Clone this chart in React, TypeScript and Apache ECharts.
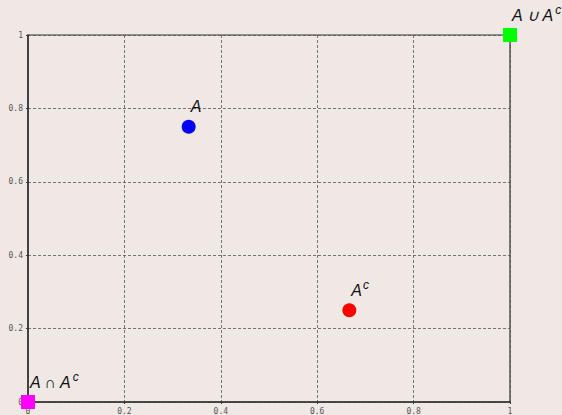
import React, { useEffect, useRef } from "react";
import * as echarts from "echarts";

const xTicks = [0, 0.2, 0.4, 0.6, 0.8, 1];
const yTicks = [0, 0.2, 0.4, 0.6, 0.8, 1];
const pointNames = ["A", "Ac", "AcapAc", "AcupAc"];
const pointX = [1 / 3, 2 / 3, 0, 1];
const pointY = [0.75, 0.25, 0, 1];
const pointLabels = ["{m|A}", "{m|A}{s|c}", "{m|A ∩ A}{s|c}", "{m|A ∪ A}{s|c}"];
const pointSymbols = ["circle", "circle", "rect", "rect"];
const pointColors = ["#0000ff", "#ff0000", "#ff00ff", "#00ff00"];

export default function App() {
  const ref = useRef<HTMLDivElement>(null);
  useEffect(() => {
    if (!ref.current) return;
    const chart = echarts.init(ref.current, null, { renderer: "svg" });
    const fmt = (v: number) => (xTicks.includes(v) || yTicks.includes(v) ? String(v) : "");
    const axisCommon = {
      type: "value" as const,
      min: 0,
      max: 1,
      interval: 0.2,
      axisLine: { show: true, lineStyle: { color: "#333", width: 1.5 } },
      axisTick: { show: true, length: 2, lineStyle: { color: "#333" } },
      splitLine: { show: true, lineStyle: { type: [3, 2], color: "#555", width: 0.8 } },
      axisLabel: {
        fontFamily: "DejaVu Sans Mono",
        fontSize: 8,
        color: "#555",
        formatter: fmt,
        margin: 5,
      },
    };
    chart.setOption({
      animation: false,
      backgroundColor: "#f0e8e5",
      grid: {
        left: 28,
        right: 52,
        top: 35,
        bottom: 13,
        show: true,
        borderColor: "#333",
        borderWidth: 1.2,
        backgroundColor: "transparent",
      },
      xAxis: { ...axisCommon },
      yAxis: { ...axisCommon },
      series: pointNames.map((name, i) => ({
        name,
        type: "scatter",
        symbol: pointSymbols[i],
        symbolSize: 14,
        itemStyle: { color: pointColors[i], opacity: 1 },
        data: [[pointX[i], pointY[i]]],
        label: {
          show: true,
          position: [9, -5],
          align: "left",
          verticalAlign: "bottom",
          formatter: pointLabels[i],
          rich: {
            m: {
              fontFamily: "Liberation Sans",
              fontStyle: "italic",
              fontSize: 16,
              lineHeight: 18,
              verticalAlign: "bottom",
              color: "#111",
            },
            s: {
              fontFamily: "Liberation Sans",
              fontStyle: "italic",
              fontSize: 12,
              lineHeight: 12,
              padding: [0, 0, 7, 1],
              verticalAlign: "bottom",
              color: "#111",
            },
          },
        },
        z: 5,
      })),
    });
    return () => chart.dispose();
  }, []);
  return (
    <div
      ref={ref}
      style={{ position: "fixed", left: 0, top: 0, width: 562, height: 415 }}
    />
  );
}
